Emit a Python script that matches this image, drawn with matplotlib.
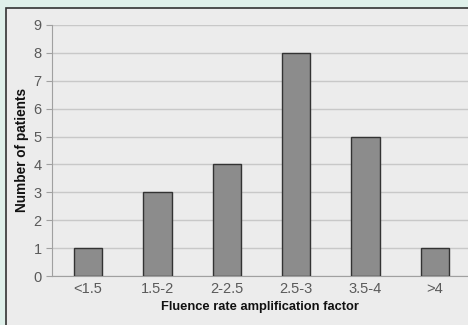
import matplotlib
matplotlib.use("Agg")
import matplotlib.pyplot as plt
from matplotlib.patches import Rectangle

plt.rcParams["font.family"] = ["Liberation Sans", "DejaVu Sans"]

# Datos
categorias = ["<1.5", "1.5-2", "2-2.5", "2.5-3", "3.5-4", ">4"]
pacientes = [1, 3, 4, 8, 5, 1]

W, H = 468, 325
fig = plt.figure(figsize=(W / 100, H / 100), dpi=100)
fig.patch.set_facecolor("#dff0ea")

# panel gris con borde oscuro
panel = Rectangle((6 / W, -0.1), 1.2, 1.1 - 8 / H, transform=fig.transFigure,
                  facecolor="#ececec", edgecolor="#333333", linewidth=1.2,
                  zorder=-10)
fig.patches.append(panel)

ax = fig.add_axes([52 / W, 1 - 276 / H, (W - 52) / W, (276 - 25) / H])
ax.set_facecolor("#ececec")

x = list(range(len(categorias)))
ax.bar(x, pacientes, width=0.41, color="#8c8c8c", edgecolor="#333333",
       linewidth=1.0, zorder=3)

ax.set_xlim(-0.52, len(categorias) - 0.52)
ax.set_ylim(0, 9)
ax.set_yticks(range(10))
ax.set_xticks(x)
ax.set_xticklabels(categorias)
ax.grid(axis="y", color="#c8c8c8", linewidth=1.0, zorder=1)
ax.tick_params(axis="both", colors="#a0a0a0", labelcolor="#5a5a5a",
               labelsize=10.5, length=4)
ax.tick_params(axis="x", length=0, pad=4)
for s in ["top", "right"]:
    ax.spines[s].set_visible(False)
for s in ["left", "bottom"]:
    ax.spines[s].set_color("#a0a0a0")

ax.set_xlabel("Fluence rate amplification factor", fontsize=9.3,
              fontweight="bold", labelpad=4, color="#111111")
ax.set_ylabel("Number of patients", fontsize=9.8, fontweight="bold",
              labelpad=3, color="#111111")

fig.savefig("out.png", dpi=100, facecolor=fig.get_facecolor())
